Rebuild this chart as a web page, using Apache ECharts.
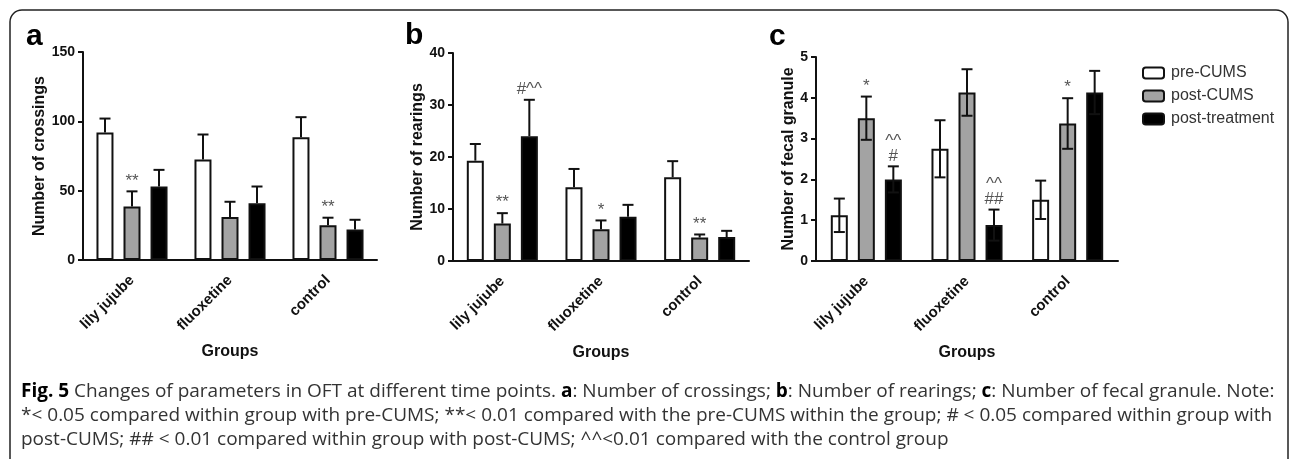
<!DOCTYPE html>
<html><head><meta charset="utf-8">
<script src="https://cdn.jsdelivr.net/npm/echarts@6/dist/echarts.min.js"></script>
<style>html,body{margin:0;padding:0;background:#fff}#c{width:1292px;height:459px}</style>
</head><body><div id="c"></div>
<script>
// ---------- data ----------
const categories = ['lily jujube', 'fluoxetine', 'control'];
const seriesNames = ['pre-CUMS', 'post-CUMS', 'post-treatment'];

// a: Number of crossings (mean, SEM)
const crossingsPre = [92, 72.5, 88.5];
const crossingsPreSem = [10, 18, 14.5];
const crossingsPost = [38.5, 31, 25];
const crossingsPostSem = [11, 11, 5.5];
const crossingsTreat = [53, 41, 22];
const crossingsTreatSem = [12, 12, 7];
const crossingsPostMarks = ['**', '', '**'];
const crossingsTreatMarks = ['', '', ''];

// b: Number of rearings
const rearingsPre = [19.3, 14.2, 16.1];
const rearingsPreSem = [3.2, 3.5, 3.1];
const rearingsPost = [7.2, 6.1, 4.5];
const rearingsPostSem = [2.0, 1.7, 0.6];
const rearingsTreat = [24, 8.5, 4.6];
const rearingsTreatSem = [7, 2.3, 1.2];
const rearingsPostMarks = ['**', '*', '**'];
const rearingsTreatMarks = ['#^^', '', ''];

// c: Number of fecal granule
const fecalPre = [1.12, 2.75, 1.5];
const fecalPreSem = [0.41, 0.7, 0.47];
const fecalPost = [3.5, 4.13, 3.37];
const fecalPostSem = [0.53, 0.57, 0.62];
const fecalTreat = [2.0, 0.88, 4.13];
const fecalTreatSem = [0.32, 0.38, 0.53];
const fecalPostMarks = ['*', '', '*'];
const fecalTreatMarks = ['^^\n#', '^^\n##', ''];

// axis ticks [min, max, interval]
const crossingsAxis = [0, 150, 50];
const rearingsAxis = [0, 40, 10];
const fecalAxis = [0, 5, 1];

const yTitles = ['Number of crossings', 'Number of rearings', 'Number of fecal granule'];
const xTitle = 'Groups';
const panelLetters = ['a', 'b', 'c'];

const captionLines = [
  '{fb|Fig. 5} Changes of parameters in OFT at different time points. {b|a}: Number of crossings; {b|b}: Number of rearings; {b|c}: Number of fecal granule. Note:',
  '*< 0.05 compared within group with pre-CUMS; **< 0.01 compared with the pre-CUMS within the group; # < 0.05 compared within group with',
  'post-CUMS; ## < 0.01 compared within group with post-CUMS; ^^<0.01 compared with the control group'
];

// ---------- styles ----------
const FONT = 'Liberation Sans, Arial, sans-serif';
const CAP_FONT = 'Open Sans';
const CAP_SIZE = 19;
const BAR_W = 17, BAR_STEP = 27;
const fills = ['#ffffff', '#a3a3a3', '#000000'];
const grids = [
  { left: 83, top: 52, width: 294, height: 208 },
  { left: 453, top: 53, width: 296, height: 208 },
  { left: 816, top: 57, width: 302, height: 204 }
];
const nameGaps = [35, 26, 19];
const letterPos = [[26, 22], [405, 21], [769, 22]];

const panels = [
  { means: [crossingsPre, crossingsPost, crossingsTreat], sems: [crossingsPreSem, crossingsPostSem, crossingsTreatSem],
    marks: [['', '', ''], crossingsPostMarks, crossingsTreatMarks], axis: crossingsAxis, two: false },
  { means: [rearingsPre, rearingsPost, rearingsTreat], sems: [rearingsPreSem, rearingsPostSem, rearingsTreatSem],
    marks: [['', '', ''], rearingsPostMarks, rearingsTreatMarks], axis: rearingsAxis, two: false },
  { means: [fecalPre, fecalPost, fecalTreat], sems: [fecalPreSem, fecalPostSem, fecalTreatSem],
    marks: [['', '', ''], fecalPostMarks, fecalTreatMarks], axis: fecalAxis, two: true }
];

const xAxes = [], yAxes = [], series = [];
panels.forEach((p, pi) => {
  xAxes.push({
    type: 'category', gridIndex: pi, data: categories,
    name: xTitle, nameLocation: 'middle', nameGap: 84,
    nameTextStyle: { fontFamily: FONT, fontWeight: 'bold', fontSize: 16, color: '#111' },
    axisLine: { lineStyle: { color: '#111', width: 2 } },
    axisTick: { alignWithLabel: true, length: 7, lineStyle: { color: '#111', width: 2 } },
    axisLabel: { rotate: 45, margin: 18, fontFamily: FONT, fontWeight: 'bold', fontSize: 15, color: '#111', interval: 0 }
  });
  yAxes.push({
    type: 'value', gridIndex: pi, min: p.axis[0], max: p.axis[1], interval: p.axis[2],
    name: yTitles[pi], nameLocation: 'middle', nameGap: nameGaps[pi], nameRotate: 90,
    nameTextStyle: { fontFamily: FONT, fontWeight: 'bold', fontSize: 16, color: '#111' },
    splitLine: { show: false },
    axisLine: { show: true, lineStyle: { color: '#111', width: 2 } },
    axisTick: { show: true, length: 5, lineStyle: { color: '#111', width: 2 } },
    axisLabel: { margin: 8, fontFamily: FONT, fontWeight: 'bold', fontSize: 14, color: '#111' }
  });
  for (let s = 0; s < 3; s++) {
    series.push({
      type: 'bar', name: seriesNames[s], xAxisIndex: pi, yAxisIndex: pi,
      data: p.means[s], barWidth: BAR_W, barGap: '59%',
      itemStyle: { color: fills[s], borderColor: '#111', borderWidth: 2 },
      z: 2
    });
  }
  for (let s = 0; s < 3; s++) {
    const marks = p.marks[s];
    series.push({
      type: 'custom', name: 'err' + pi + s, xAxisIndex: pi, yAxisIndex: pi, z: 5,
      data: categories.map((c, i) => [i, p.means[s][i], p.sems[s][i]]),
      encode: { x: 0, y: 1 },
      renderItem: function (params, api) {
        const cat = api.value(0), m = api.value(1), e = api.value(2);
        const top = api.coord([cat, m + e]);
        const mid = api.coord([cat, m]);
        const bot = api.coord([cat, m - e]);
        const x = top[0] + (s - 1) * BAR_STEP;
        const y0 = p.two ? bot[1] : mid[1];
        const ls = { stroke: '#111', lineWidth: 2 };
        const children = [
          { type: 'line', shape: { x1: x, y1: y0, x2: x, y2: top[1] }, style: ls },
          { type: 'line', shape: { x1: x - 5.5, y1: top[1], x2: x + 5.5, y2: top[1] }, style: ls }
        ];
        if (p.two) children.push({ type: 'line', shape: { x1: x - 5.5, y1: bot[1], x2: x + 5.5, y2: bot[1] }, style: ls });
        const t = marks[params.dataIndex];
        if (t) children.push({
          type: 'text', x: x, y: top[1] - 3,
          style: { text: t, fill: '#555', font: '17px ' + FONT, align: 'center', verticalAlign: 'bottom', lineHeight: 15 }
        });
        return { type: 'group', children: children };
      }
    });
  }
});

const graphics = [
  { type: 'rect', shape: { x: 10, y: 10, width: 1278, height: 480, r: 12 },
    style: { fill: 'none', stroke: '#222', lineWidth: 1.5 }, silent: true }
];
letterPos.forEach((pos, i) => {
  graphics.push({ type: 'text', x: pos[0], y: pos[1],
    style: { text: panelLetters[i], font: 'bold 30px ' + FONT, fill: '#000', verticalAlign: 'top' } });
});
const capY = [392, 416, 440];
captionLines.forEach((line, i) => {
  graphics.push({
    type: 'text', x: 21, y: capY[i],
    style: {
      text: line, fill: '#333', fontFamily: CAP_FONT, fontSize: CAP_SIZE, verticalAlign: 'middle',
      rich: {
        fb: { fontFamily: CAP_FONT, fontWeight: 'bold', fontSize: CAP_SIZE, fill: '#000' },
        b: { fontFamily: CAP_FONT, fontWeight: 'bold', fontSize: CAP_SIZE, fill: '#000' }
      }
    }
  });
});

const chart = echarts.init(document.getElementById('c'), null, { renderer: 'canvas' });
chart.setOption({
  animation: false,
  backgroundColor: '#fff',
  grid: grids,
  xAxis: xAxes,
  yAxis: yAxes,
  legend: {
    data: seriesNames, orient: 'vertical', left: 1137, top: 60,
    itemWidth: 21, itemHeight: 11, itemGap: 7, selectedMode: false,
    itemStyle: { borderColor: '#111', borderWidth: 2 },
    textStyle: { fontFamily: FONT, fontSize: 16, color: '#333', lineHeight: 16, padding: [0, 0, 0, 2] }
  },
  series: series,
  graphic: graphics
});
</script></body></html>
